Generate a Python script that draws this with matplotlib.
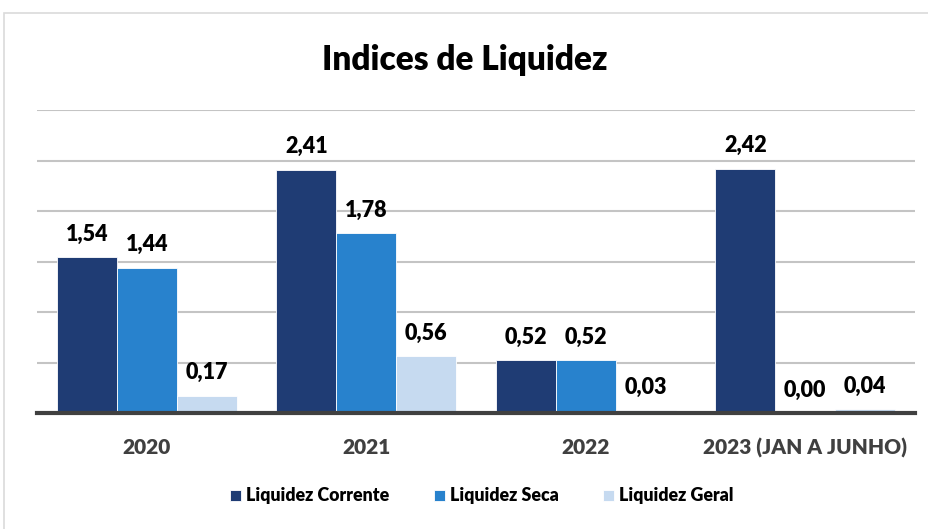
import matplotlib
matplotlib.use('Agg')
import matplotlib.pyplot as plt
import numpy as np
from matplotlib.patches import Rectangle

plt.rcParams['font.family'] = ['Lato', 'DejaVu Sans']

categories = ['2020', '2021', '2022', '2023 (JAN A JUNHO)']
series_names = ['Liquidez Corrente', 'Liquidez Seca', 'Liquidez Geral']
corrente = [1.54, 2.41, 0.52, 2.42]
seca = [1.44, 1.78, 0.52, 0.00]
geral = [0.17, 0.56, 0.03, 0.04]
colors = ['#1F3C74', '#2882CD', '#C6DAF0']

fig = plt.figure(figsize=(9.29, 5.29), dpi=100)
fig.patch.set_facecolor('white')
# light outer frame of the chart area
fig.patches.append(Rectangle((4/929, -0.01), 1.0, 1 - 13/529 + 0.01,
                             transform=fig.transFigure, fill=False,
                             edgecolor='#DADADA', lw=1.2))

ax = fig.add_axes([37/929, 116/529, 878/929, 303/529])
x = np.arange(len(categories))
w = 0.273
values = [corrente, seca, geral]
for i, (vals, name, c) in enumerate(zip(values, series_names, colors)):
    bars = ax.bar(x + (i - 1) * w, vals, w, color=c, label=name,
                  edgecolor='white', linewidth=0.6, zorder=3)
    for b, v in zip(bars, vals):
        ax.annotate(f'{v:.2f}'.replace('.', ','),
                    (b.get_x() + b.get_width() / 2, v),
                    xytext=(0, 9), textcoords='offset points',
                    ha='center', va='bottom', fontsize=15.5,
                    fontweight='heavy', color='black', zorder=4)

ax.set_xlim(-0.5, 3.5)
ax.set_ylim(0, 3.0)
ax.set_yticks(np.arange(0.5, 3.01, 0.5))
ax.yaxis.grid(True, color='#C4C4C4', lw=1.5, zorder=0)
ax.tick_params(axis='y', length=0, labelleft=False)
ax.set_xticks(x)
ax.set_xticklabels(categories, fontsize=15, fontweight='heavy', color='#404040')
ax.tick_params(axis='x', length=0, pad=18)
for s in ['top', 'right', 'left']:
    ax.spines[s].set_visible(False)
ax.spines['bottom'].set_color('#404040')
ax.spines['bottom'].set_linewidth(3)
ax.spines['bottom'].set_zorder(5)

fig.text(0.5, 1 - 60/529, 'Indices de Liquidez', ha='center', va='center',
         fontsize=24, fontweight='heavy', color='black')

fig.legend(loc='center', bbox_to_anchor=(482/929, 1 - 496/529), ncol=3,
           frameon=False, handlelength=0.6, handleheight=0.6,
           handletextpad=0.3, columnspacing=2.5,
           prop={'size': 12.8, 'weight': 'heavy'})

plt.savefig('out.png', dpi=100, facecolor='white')
